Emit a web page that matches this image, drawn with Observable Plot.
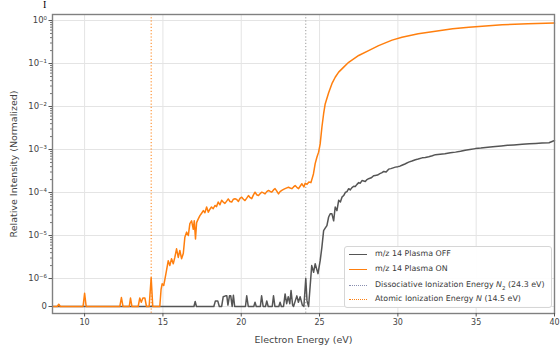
<!DOCTYPE html>
<html>
<head>
<meta charset="utf-8">
<script src="https://cdn.jsdelivr.net/npm/d3@7"></script>
<script src="https://cdn.jsdelivr.net/npm/@observablehq/plot@0.6"></script>
<style>
  html, body { margin: 0; padding: 0; background: #fff; }
  #wrap { position: relative; width: 560px; height: 345px; overflow: hidden; font-family: "DejaVu Sans", sans-serif; }
  #legend { position: absolute; left: 344px; top: 246px; width: 206px; height: 60px; border: 1px solid #d6d6d6; border-radius: 3px; background: rgba(255,255,255,0.92); font-size: 7.9px; color: #3a3a3a; }
  .row { position: absolute; left: 0; height: 10px; width: 100%; }
  .sw { position: absolute; left: 4px; width: 18px; top: 5px; height: 0; }
  .lab { position: absolute; left: 30px; top: 0; line-height: 10px; white-space: nowrap; }
  #glyph { position: absolute; left: 43px; top: 0px; font-family: "Liberation Serif", serif; font-size: 10px; color: #000; line-height: 9px; }
</style>
</head>
<body>
<div id="wrap">
  <div id="chart"></div>
  <div id="glyph">I</div>
  <div id="legend"></div>
</div>
<script>
// ---- data ----
const xTicks = [10, 15, 20, 25, 30, 35, 40];
const yTicks = [0, 1e-6, 1e-5, 1e-4, 1e-3, 1e-2, 1e-1, 1];
const yTickLabels = ["0", "10⁻⁶", "10⁻⁵", "10⁻⁴", "10⁻³", "10⁻²", "10⁻¹", "10⁰"];
const seriesNames = ["m/z 14 Plasma OFF", "m/z 14 Plasma ON"];
const refLineNames = ["Dissociative Ionization Energy N₂ (24.3 eV)", "Atomic Ionization Energy N (14.5 eV)"];
const refLinePositions = [24.12, 14.25];

const energyOff = [8.0, 16.98, 17.06, 17.14, 18.25, 18.35, 18.5, 18.6, 18.75, 18.85, 19.0, 19.08, 19.15, 19.25, 19.33, 19.42, 19.5, 19.58,
  20.27, 20.35, 20.45, 20.8, 20.88, 20.96, 21.22, 21.3, 21.4, 21.55, 21.63, 21.72, 21.98, 22.06, 22.15, 22.4, 22.48, 22.56,
  22.7, 22.8, 22.9, 23.0, 23.1, 23.18, 23.28, 23.34, 23.45, 23.55, 23.65, 23.76, 23.9, 24.0, 24.12, 24.2, 24.3,
  24.5, 24.62, 24.72, 24.9, 25.04, 25.15, 25.26, 25.37, 25.47, 25.58, 25.68, 25.79, 25.9, 26.0, 26.11, 26.22, 26.33, 26.43,
  26.54, 26.64, 26.75, 26.86, 26.96, 27.07, 27.18, 27.28, 27.39, 27.5, 27.6, 27.71, 27.82, 27.92, 28.03, 28.13, 28.3, 28.45,
  28.56, 28.7, 28.85, 28.99, 29.1, 29.25, 29.41, 29.55, 29.7, 29.84, 30.0, 30.13, 30.26, 30.45, 30.69, 30.9, 31.12, 31.3,
  31.55, 31.75, 31.97, 32.2, 32.4, 32.7, 33.0, 33.35, 33.68, 34.0, 34.3, 34.6, 34.95, 35.3, 35.6, 35.9, 36.23, 36.6, 37.0,
  37.4, 37.94, 38.4, 38.8, 39.2, 39.65, 40.0];
const intensityOff = [0, 0, 0.18e-6, 0, 0, 0.2e-6, 0.2e-6, 0, 0, 0.35e-6, 0.38e-6, 0.38e-6, 0.05e-6, 0.38e-6, 0.38e-6, 0, 0.4e-6, 0,
  0, 0.38e-6, 0, 0, 0.15e-6, 0, 0, 0.38e-6, 0, 0, 0.2e-6, 0, 0, 0.38e-6, 0, 0, 0.15e-6, 0,
  0, 0.45e-6, 0.1e-6, 0.35e-6, 0.1e-6, 0.57e-6, 0.05e-6, 0, 0.2e-6, 0.38e-6, 0.15e-6, 0.35e-6, 0.05e-6, 0, 1.0e-6, 0.2e-6, 0,
  2.0e-6, 1.4e-6, 2.2e-6, 1.3e-6, 2.6e-6, 5.4e-6, 1.3e-5, 1.5e-5, 1.7e-5, 2.7e-5, 3.2e-5, 3.2e-5, 2.2e-5, 4.6e-5, 3.8e-5, 6.6e-5, 6.0e-5, 7.8e-5,
  8.5e-5, 1.0e-4, 1.05e-4, 1.23e-4, 1.15e-4, 1.3e-4, 1.4e-4, 1.38e-4, 1.55e-4, 1.7e-4, 1.65e-4, 1.9e-4, 1.85e-4, 1.8e-4, 2.0e-4, 2.1e-4, 2.2e-4, 2.45e-4,
  2.5e-4, 2.55e-4, 2.75e-4, 2.9e-4, 3.1e-4, 3.0e-4, 3.5e-4, 3.6e-4, 3.75e-4, 3.9e-4, 4.0e-4, 4.1e-4, 4.3e-4, 4.6e-4, 5.1e-4, 5.4e-4, 5.8e-4, 6.0e-4,
  6.4e-4, 6.5e-4, 6.8e-4, 7.2e-4, 7.6e-4, 7.8e-4, 8.0e-4, 8.4e-4, 8.7e-4, 9.1e-4, 9.6e-4, 1.0e-3, 1.05e-3, 1.08e-3, 1.12e-3, 1.15e-3, 1.18e-3, 1.21e-3, 1.25e-3,
  1.28e-3, 1.32e-3, 1.36e-3, 1.39e-3, 1.42e-3, 1.44e-3, 1.62e-3];

const energyOn = [8.0, 8.25, 8.35, 8.45, 9.9, 10.0, 10.1, 12.25, 12.35, 12.45, 12.85, 12.93, 13.02, 13.42, 13.52, 13.62, 13.72, 13.85, 13.95,
  14.12, 14.25, 14.35, 14.8, 14.88, 14.95, 15.05, 15.12, 15.23, 15.34, 15.44, 15.55, 15.66, 15.76, 15.87, 15.98, 16.08, 16.19, 16.3,
  16.4, 16.51, 16.62, 16.72, 16.83, 16.94, 17.0, 17.08, 17.15, 17.25, 17.36, 17.47, 17.58, 17.68, 17.79, 17.9, 18.0, 18.1, 18.21,
  18.32, 18.42, 18.53, 18.64, 18.75, 18.85, 18.96, 19.07, 19.17, 19.28, 19.39, 19.5, 19.6, 19.71, 19.82, 19.92, 20.03, 20.14, 20.24,
  20.35, 20.46, 20.57, 20.67, 20.78, 20.88, 20.99, 21.1, 21.2, 21.31, 21.42, 21.52, 21.63, 21.74, 21.85, 21.95, 22.06, 22.16, 22.27,
  22.38, 22.48, 22.59, 22.7, 22.8, 22.91, 23.02, 23.12, 23.23, 23.34, 23.44, 23.55, 23.66, 23.76, 23.87, 24.0, 24.08, 24.2, 24.32,
  24.45, 24.61, 24.72, 24.83, 24.94, 25.04, 25.15, 25.26, 25.36, 25.58, 25.79, 26.0, 26.22, 26.43, 26.86, 27.5, 28.13, 28.77, 29.63,
  30.26, 31.3, 32.4, 33.5, 34.53, 35.6, 36.66, 38.3, 40.0];
const intensityOn = [0, 0, 0.08e-6, 0, 0, 0.47e-6, 0, 0, 0.32e-6, 0, 0, 0.3e-6, 0, 0, 0.3e-6, 0.15e-6, 0.3e-6, 0.3e-6, 0,
  0, 1.05e-6, 0, 0, 0.6e-6, 0.81e-6, 0.75e-6, 0.95e-6, 1.55e-6, 2.6e-6, 2.0e-6, 2.9e-6, 2.2e-6, 3.1e-6, 4.9e-6, 3.1e-6, 4.5e-6, 2.9e-6, 3.8e-6,
  9.1e-6, 1.2e-5, 1.0e-5, 1.9e-5, 2.2e-5, 1.4e-5, 2.2e-5, 8.3e-6, 2.0e-5, 2.4e-5, 2.9e-5, 3.3e-5, 3.8e-5, 3.4e-5, 4.6e-5, 3.5e-5, 4.1e-5, 4.6e-5, 4.2e-5,
  5.0e-5, 4.7e-5, 6.0e-5, 5.2e-5, 6.6e-5, 6.0e-5, 5.6e-5, 6.3e-5, 7.1e-5, 6.2e-5, 6.0e-5, 7.0e-5, 7.2e-5, 6.9e-5, 6.2e-5, 7.3e-5, 7.8e-5, 7.0e-5, 6.5e-5,
  7.4e-5, 8.5e-5, 7.6e-5, 7.2e-5, 8.8e-5, 1.02e-4, 8.9e-5, 8.5e-5, 9.4e-5, 1.02e-4, 9.8e-5, 9.3e-5, 1.05e-4, 1.12e-4, 1.06e-4, 1.02e-4, 1.15e-4, 1.23e-4, 1.08e-4,
  9.3e-5, 1.05e-4, 1.12e-4, 1.18e-4, 1.23e-4, 1.28e-4, 1.33e-4, 1.27e-4, 1.23e-4, 1.35e-4, 1.45e-4, 1.32e-4, 1.23e-4, 1.4e-4, 1.6e-4, 1.35e-4, 1.65e-4, 1.55e-4, 1.75e-4,
  1.7e-4, 2.7e-4, 4.7e-4, 6.6e-4, 8.7e-4, 1.35e-3, 3.3e-3, 6.8e-3, 1.15e-2, 2.1e-2, 3.4e-2, 4.8e-2, 6.3e-2, 7.5e-2, 0.107, 0.154, 0.2, 0.26, 0.35,
  0.41, 0.49, 0.56, 0.64, 0.70, 0.75, 0.80, 0.84, 0.87];

// ---- build tables ----
const off = energyOff.map((e, i) => ({e, v: intensityOff[i]}));
const on = energyOn.map((e, i) => ({e, v: intensityOn[i]}));
const minorTicks = [];
for (let k = -6; k <= -1; k++) for (let m = 2; m <= 9; m++) minorTicks.push(m * Math.pow(10, k));

// matplotlib-like symlog: linear below 1e-6, logarithmic above
const LINTHRESH = 1e-6, LINSCALE = 0.65;
const symlog = v => v <= LINTHRESH ? LINSCALE * v / LINTHRESH : LINSCALE + Math.log10(v / LINTHRESH);

const C_OFF = "#555555", C_ON = "#ff7f0e";
const chart = Plot.plot({
  width: 560, height: 345,
  marginLeft: 52, marginRight: 6, marginTop: 14, marginBottom: 32,
  style: {fontFamily: "DejaVu Sans, sans-serif", fontSize: "8px", color: "#444", background: "transparent"},
  x: {domain: [7.95, 40]},
  y: {transform: symlog, domain: [-0.163, 6.79]},
  marks: [
    Plot.gridX(xTicks, {stroke: "#e4e4e4", strokeOpacity: 1}),
    Plot.gridY(yTicks, {stroke: "#e4e4e4", strokeOpacity: 1}),
    Plot.ruleX([refLinePositions[1]], {stroke: C_ON, strokeWidth: 1, strokeDasharray: "1.2,2"}),
    Plot.ruleX([refLinePositions[0]], {stroke: "#9a9a9a", strokeWidth: 1, strokeDasharray: "1.2,2"}),
    Plot.line(off, {x: "e", y: "v", stroke: C_OFF, strokeWidth: 1.5}),
    Plot.line(on, {x: "e", y: "v", stroke: C_ON, strokeWidth: 1.5}),
    Plot.frame({stroke: "#808080", strokeWidth: 1.4}),
    Plot.axisX(xTicks, {tickSize: 3.5, tickPadding: 2, stroke: "#555", fontSize: 8, label: null}),
    Plot.axisX({ticks: [], label: "Electron Energy (eV)", labelAnchor: "center", labelOffset: 29, labelArrow: "none", fontSize: 9.5}),
    Plot.axisY(yTicks, {tickSize: 3.5, tickPadding: 2, stroke: "#555", fontSize: 8.5, tickFormat: (d) => yTickLabels[yTicks.indexOf(d)], label: null}),
    Plot.axisY({ticks: [], label: "Relative Intensity (Normalized)", labelAnchor: "center", labelOffset: 42, labelArrow: "none", fontSize: 9.5}),
    Plot.axisY(minorTicks, {tickSize: 2, stroke: "#777", tickFormat: () => "", label: null})
  ]
});
document.getElementById("chart").appendChild(chart);

// ---- legend overlay ----
const legend = document.getElementById("legend");
const rows = [
  {name: seriesNames[0], color: C_OFF, dash: false},
  {name: seriesNames[1], color: C_ON, dash: false},
  {name: refLineNames[0], color: "#8a8fb0", dash: true},
  {name: refLineNames[1], color: C_ON, dash: true}
];
const rowTops = [1.5, 17, 32.5, 47];
rows.forEach((r, i) => {
  const row = document.createElement("div");
  row.className = "row";
  row.style.top = rowTops[i] + "px";
  const sw = document.createElement("div");
  sw.className = "sw";
  sw.style.borderTop = r.dash ? `1px dotted ${r.color}` : `1.6px solid ${r.color}`;
  row.appendChild(sw);
  const lab = document.createElement("div");
  lab.className = "lab";
  let html = r.name;
  html = html.replace("N₂", '<i>N</i><sub style="font-size:5.5px;line-height:0">2</sub>').replace("Energy N (", "Energy <i>N</i> (");
  lab.innerHTML = html;
  row.appendChild(lab);
  legend.appendChild(row);
});
</script>
</body>
</html>
